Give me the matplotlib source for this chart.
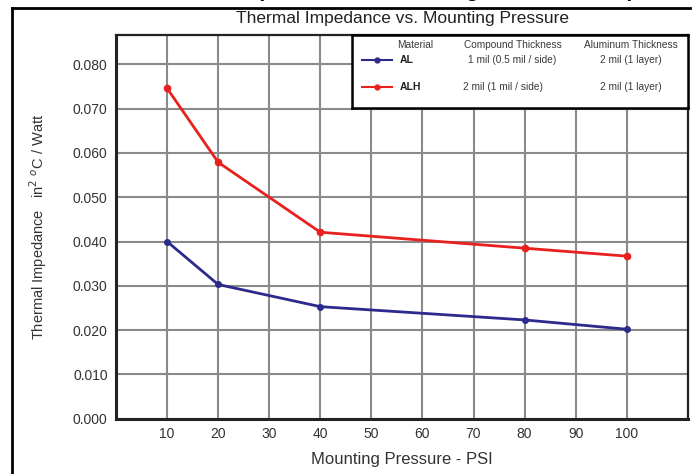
import matplotlib
matplotlib.use("Agg")
import matplotlib.pyplot as plt
from matplotlib.lines import Line2D

# ---- data ----
pressure_psi = [10, 20, 40, 80, 100]
al_values = [0.0400, 0.0303, 0.0253, 0.0223, 0.0202]
alh_values = [0.0746, 0.0579, 0.0421, 0.0385, 0.0367]
x_ticks = [10, 20, 30, 40, 50, 60, 70, 80, 90, 100]
y_ticks = [0.000, 0.010, 0.020, 0.030, 0.040, 0.050, 0.060, 0.070, 0.080]
series_names = ["AL", "ALH"]
compound_thickness = ["1 mil (0.5 mil / side)", "2 mil (1 mil / side)"]
aluminum_thickness = ["2 mil (1 layer)", "2 mil (1 layer)"]
legend_headers = ["Material", "Compound Thickness", "Aluminum Thickness"]

FONT = ["Liberation Sans", "DejaVu Sans"]
plt.rcParams["font.family"] = FONT

W, H = 693, 474
fig = plt.figure(figsize=(W / 100, H / 100), dpi=100)
fig.patch.set_facecolor("white")

def fx(px):
    return px / W

def fy(py):
    return 1 - py / H

# outer border (left and top only visible)
fig.add_artist(Line2D([fx(12), fx(12)], [fy(8), fy(480)], color="black", lw=2))
fig.add_artist(Line2D([fx(12), fx(690)], [fy(8), fy(8)], color="black", lw=2))

# cut-off big heading at very top (only descenders visible)
fig.text(fx(425), fy(-2.5), "Thermal Impedance vs. Mounting Pressure Comparison",
         ha="center", va="baseline", fontsize=15, fontweight="bold",
         color="black")

ax = fig.add_axes([fx(116), fy(418.7), fx(688) - fx(116), fy(34.7) - fy(418.7)])
ax.set_xlim(0, 112)
ax.set_ylim(0, 0.0867)
ax.set_xticks(x_ticks)
ax.set_yticks(y_ticks)
ax.set_xticklabels([str(v) for v in x_ticks])
ax.set_yticklabels([f"{v:.3f}" for v in y_ticks])
ax.tick_params(length=0, labelsize=10, colors="#333333", pad=6)
ax.grid(True, color="#8a8a8a", lw=1.5)
ax.set_axisbelow(True)
for s in ax.spines.values():
    s.set_color("#222222")
    s.set_linewidth(1.6)
ax.spines["left"].set_linewidth(2.2)
ax.spines["bottom"].set_linewidth(2.2)

blue = "#2c2a8c"
red = "#e8201e"
ax.plot(pressure_psi, al_values, color=blue, lw=2, marker="o", ms=4, zorder=3)
ax.plot(pressure_psi, alh_values, color=red, lw=2, marker="o", ms=4.5, zorder=3)

ax.set_xlabel("Mounting Pressure - PSI", fontsize=12, color="#333333", labelpad=8)
ax.set_ylabel("Thermal Impedance   in$^2$ $^o$C / Watt", fontsize=10.5, color="#333333",
              labelpad=17)

fig.text(fx(402), fy(19), "Thermal Impedance vs. Mounting Pressure", ha="center",
         va="center", fontsize=12.5, color="#222222")

# custom legend box
lax = fig.add_axes([fx(352), fy(108), fx(688) - fx(352), fy(35) - fy(108)])
lax.set_xlim(0, 1)
lax.set_ylim(0, 1)
lax.set_xticks([])
lax.set_yticks([])
lax.set_facecolor("white")
for s in lax.spines.values():
    s.set_color("black")
    s.set_linewidth(1.8)
lax.set_zorder(5)

tc = "#3a3a3a"
col_x = [0.1875, 0.478, 0.83]
for cx, hdr in zip(col_x, legend_headers):
    lax.text(cx, 0.86, hdr, ha="center", va="center", fontsize=7.3, color=tc)
row_y = [0.66, 0.29]
colors = [blue, red]
for ry, name, ct, at, c in zip(row_y, series_names, compound_thickness,
                                aluminum_thickness, colors):
    lax.plot([0.03, 0.12], [ry, ry], color=c, lw=1.5)
    lax.plot([0.075], [ry], color=c, marker="o", ms=3.5)
    lax.text(0.143, ry, name, ha="left", va="center", fontsize=7.5,
             fontweight="bold", color="#222222")
    lax.text(col_x[1] - (0.0 if ry > 0.5 else 0.03), ry, ct, ha="center",
             va="center", fontsize=7.3, color=tc)
    lax.text(col_x[2], ry, at, ha="center", va="center", fontsize=7.3, color=tc)

fig.savefig("out.png", dpi=100)
